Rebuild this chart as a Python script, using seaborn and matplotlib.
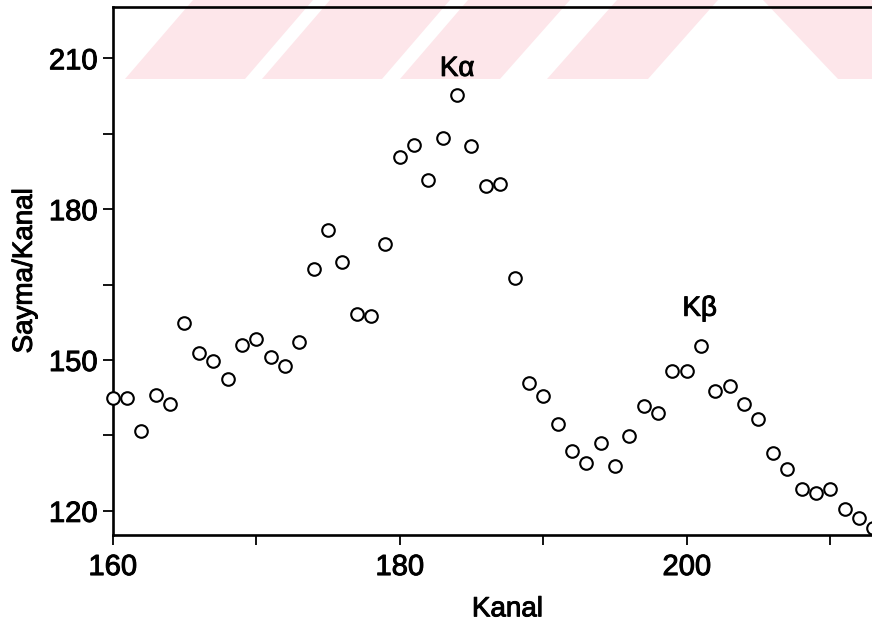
import matplotlib
matplotlib.use("Agg")
import matplotlib.pyplot as plt
from matplotlib.patches import Polygon
from matplotlib.ticker import MultipleLocator
import matplotlib.patheffects as pe
import seaborn as sns
import pandas as pd

# Channel numbers and counts per channel
kanal = [160, 161, 162, 163, 164, 165, 166, 167, 168, 169,
         170, 171, 172, 173, 174, 175, 176, 177, 178, 179,
         180, 181, 182, 183, 184, 185, 186, 187, 188, 189,
         190, 191, 192, 193, 194, 195, 196, 197, 198, 199,
         200, 201, 202, 203, 204, 205, 206, 207, 208, 209,
         210, 211, 212, 213]
sayma = [142.5, 142.4, 135.8, 143.1, 141.2, 157.3, 151.3, 149.8, 146.3, 153.0,
         154.2, 150.6, 148.8, 153.6, 168.1, 175.9, 169.4, 159.2, 158.7, 173.0,
         190.4, 192.8, 185.7, 194.1, 202.7, 192.5, 184.7, 185.1, 166.4, 145.5,
         142.8, 137.2, 131.9, 129.5, 133.5, 128.9, 134.8, 140.9, 139.4, 147.8,
         147.8, 152.7, 143.9, 144.9, 141.3, 138.3, 131.5, 128.3, 124.4, 123.5,
         124.4, 120.4, 118.5, 116.6]

# Peak labels
peak_labels = ["K\u03b1", "K\u03b2"]
peak_x = [184.0, 200.9]
peak_y = [206.5, 158.8]

x_tick_labels = [160, 180, 200]
y_tick_labels = [120, 150, 180, 210]

df = pd.DataFrame({"Kanal": kanal, "Sayma/Kanal": sayma})

sns.set_theme(style="ticks")
plt.rcParams["font.family"] = ["Liberation Sans", "DejaVu Sans"]

W, H = 872, 625
fig = plt.figure(figsize=(W / 100, H / 100), dpi=100)
fig.patch.set_facecolor("white")

# Faint diagonal stripe band across the top of the page
def px(pts):
    return [(x / W, 1 - y / H) for x, y in pts]

pink = "#fde6ea"
stripes = [
    [(125, 79), (245, 79), (313, 0), (193, 0)],
    [(262, 79), (382, 79), (450, 0), (330, 0)],
    [(400, 79), (500, 79), (570, 0), (468, 0)],
    [(547, 79), (648, 79), (718, 0), (617, 0)],
    [(838, 79), (872, 79), (872, 0), (763, 0)],
]
for s in stripes:
    fig.patches.append(Polygon(px(s), closed=True, transform=fig.transFigure,
                               facecolor=pink, edgecolor="none", zorder=-5))

ax = fig.add_axes([112.7 / W, 90 / H, 789.3 / W, 528 / H])
ax.patch.set_alpha(0)

sns.scatterplot(data=df, x="Kanal", y="Sayma/Kanal", ax=ax, marker="o",
                s=82, facecolor="white", edgecolor="black", linewidth=1.5,
                zorder=3, clip_on=False)

# Slightly heavier strokes for all text
heavy = [pe.withStroke(linewidth=0.7, foreground="black")]

for lab, xx, yy in zip(peak_labels, peak_x, peak_y):
    ax.text(xx, yy, lab, ha="center", va="baseline", fontsize=20,
            color="black", path_effects=heavy)

ax.set_xlim(160, 215)
ax.set_ylim(115.2, 220.2)
ax.set_xticks(x_tick_labels)
ax.set_yticks(y_tick_labels)
ax.xaxis.set_minor_locator(MultipleLocator(10))
ax.yaxis.set_minor_locator(MultipleLocator(15))
ax.tick_params(axis="both", which="both", direction="out", length=7, width=1.3,
               color="black", labelsize=21, labelcolor="black")
ax.tick_params(axis="x", which="major", pad=6)
ax.tick_params(axis="y", which="major", pad=4)

ax.set_xlabel("Kanal", fontsize=20, labelpad=11, color="black")
ax.set_ylabel("Sayma/Kanal", fontsize=20, labelpad=8, color="black")

for t in ax.get_xticklabels() + ax.get_yticklabels():
    t.set_path_effects(heavy)
ax.xaxis.label.set_path_effects(heavy)
ax.yaxis.label.set_path_effects(heavy)

for side in ["left", "bottom", "top"]:
    ax.spines[side].set_visible(True)
    ax.spines[side].set_linewidth(1.9)
    ax.spines[side].set_color("black")
ax.spines["right"].set_visible(False)

fig.savefig("out.png", dpi=100, facecolor="white")
